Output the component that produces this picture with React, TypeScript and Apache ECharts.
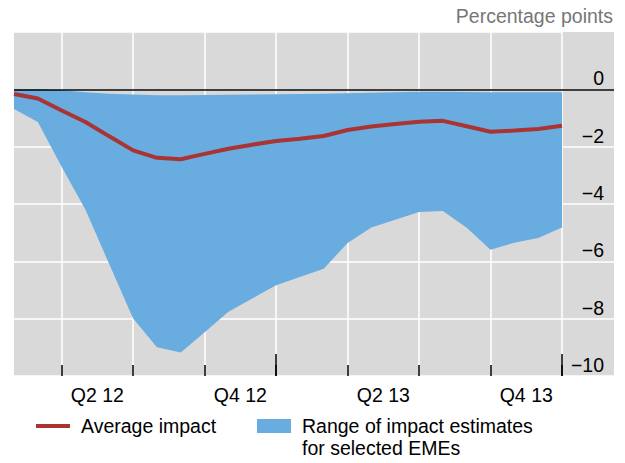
import React, { useEffect, useRef } from 'react';
import * as echarts from 'echarts';

const months = [
  'Jan 12', 'Feb 12', 'Mar 12', 'Apr 12', 'May 12', 'Jun 12', 'Jul 12', 'Aug 12', 'Sep 12', 'Oct 12', 'Nov 12', 'Dec 12',
  'Jan 13', 'Feb 13', 'Mar 13', 'Apr 13', 'May 13', 'Jun 13', 'Jul 13', 'Aug 13', 'Sep 13', 'Oct 13', 'Nov 13', 'Dec 13',
];

const averageImpact = [
  -0.16, -0.32, -0.74, -1.14, -1.64, -2.13, -2.39, -2.44, -2.25, -2.07, -1.93, -1.8,
  -1.72, -1.63, -1.42, -1.3, -1.21, -1.13, -1.1, -1.29, -1.48, -1.44, -1.38, -1.27,
];

const rangeLower = [
  -0.69, -1.14, -2.7, -4.2, -6.1, -7.99, -9.0, -9.18, -8.47, -7.76, -7.3, -6.83,
  -6.55, -6.26, -5.36, -4.82, -4.55, -4.28, -4.24, -4.83, -5.6, -5.35, -5.19, -4.82,
];

const rangeUpper = [
  0, 0, -0.03, -0.1, -0.15, -0.18, -0.21, -0.21, -0.2, -0.19, -0.18, -0.17,
  -0.16, -0.15, -0.14, -0.12, -0.1, -0.08, -0.08, -0.09, -0.1, -0.1, -0.1, -0.1,
];

const quarterLabels = ['Q2 12', 'Q4 12', 'Q2 13', 'Q4 13'];
const quarterLabelPositions = [3.5, 9.5, 15.5, 21.5];

const FONT = "'Liberation Sans', Arial, Helvetica, sans-serif";
const RED = '#aa3333';
const BLUE = '#69ace0';
const GRAY = '#d9d9d9';
const AVG_NAME = 'Average impact';
const BAND_NAME = 'Range of impact estimates\nfor selected EMEs';

export default function App() {
  const ref = useRef<HTMLDivElement>(null);

  useEffect(() => {
    if (!ref.current) return;
    const chart = echarts.init(ref.current, undefined, { renderer: 'svg' });
    const fmtY = (v: number) => (v > 0 ? '' : v < 0 ? '\u2212' + Math.abs(v) : '0');
    const option: any = {
      animation: false,
      textStyle: { fontFamily: FONT },
      title: {
        text: 'Percentage points',
        right: 12,
        top: 5,
        padding: 0,
        textStyle: { fontFamily: FONT, fontSize: 19.5, fontWeight: 'normal', color: '#767676', lineHeight: 22 },
      },
      graphic: [
        {
          type: 'rect',
          z: -10,
          silent: true,
          shape: { x: 14, y: 32, width: 600, height: 344 },
          style: { fill: GRAY },
        },
      ],
      grid: { left: 14, right: 63, top: 32, bottom: 87 },
      legend: [
        {
          data: [{ name: AVG_NAME, icon: 'rect' }],
          left: 36,
          top: 415,
          padding: 0,
          itemWidth: 34,
          itemHeight: 4,
          selectedMode: false,
          itemStyle: { borderWidth: 0 },
          textStyle: { fontFamily: FONT, fontSize: 19.5, color: '#000', lineHeight: 22, padding: [0, 0, 0, 6] },
        },
        {
          data: [{ name: BAND_NAME, icon: 'rect' }],
          left: 257,
          top: 393,
          padding: 0,
          itemWidth: 34,
          itemHeight: 14,
          selectedMode: false,
          itemStyle: { borderWidth: 0 },
          formatter: (name: string) => '\n' + name,
          textStyle: { fontFamily: FONT, fontSize: 19.5, color: '#000', lineHeight: 22, padding: [0, 0, 0, 6] },
        },
      ],
      xAxis: [
        {
          type: 'category',
          position: 'bottom',
          data: months,
          boundaryGap: false,
          axisLine: { show: false, onZero: false },
          axisLabel: { show: false },
          axisTick: {
            show: true,
            inside: true,
            length: 11,
            interval: (i: number) => i % 3 === 2,
            lineStyle: { color: '#000', width: 1.5 },
          },
          splitLine: {
            show: true,
            interval: (i: number) => i % 3 === 2,
            lineStyle: { color: '#fff', width: 1.5 },
          },
        },
        {
          type: 'category',
          position: 'bottom',
          data: months,
          boundaryGap: false,
          axisLine: { show: false, onZero: false },
          axisLabel: { show: false },
          splitLine: { show: false },
          axisTick: {
            show: true,
            inside: true,
            length: 22,
            interval: (i: number) => i === 11 || i === 23,
            lineStyle: { color: '#000', width: 1.5 },
          },
        },
        {
          type: 'value',
          position: 'bottom',
          min: 0,
          max: 23,
          axisLine: { show: false, onZero: false },
          axisTick: { show: false },
          splitLine: { show: false },
          axisLabel: {
            customValues: quarterLabelPositions,
            formatter: (v: number) => {
              const k = quarterLabelPositions.indexOf(v);
              return k >= 0 ? quarterLabels[k] : '';
            },
            fontFamily: FONT,
            fontSize: 19.5,
            color: '#000',
            margin: 8,
            lineHeight: 22,
          },
        },
      ],
      yAxis: [
        {
          type: 'value',
          position: 'right',
          min: -10,
          max: 2,
          interval: 2,
          axisLine: { show: false, onZero: false },
          axisTick: { show: true, inside: false, length: 52, lineStyle: { color: '#fff', width: 1.5 } },
          splitLine: { show: true, lineStyle: { color: '#fff', width: 1.5 } },
          axisLabel: {
            align: 'right',
            verticalAlign: 'bottom',
            margin: 42,
            fontFamily: FONT,
            fontSize: 19.5,
            color: '#000',
            lineHeight: 22,
            showMaxLabel: false,
            formatter: fmtY,
          },
        },
        {
          type: 'value',
          position: 'right',
          min: -10,
          max: 2,
          axisLine: { show: false, onZero: false },
          axisLabel: { show: false },
          splitLine: { show: false },
          axisTick: { show: true, inside: false, customValues: [0], length: 52, lineStyle: { color: '#000', width: 1.5 } },
        },
      ],
      series: [
        {
          name: 'lower bound',
          type: 'line',
          data: rangeLower,
          stack: 'range',
          stackStrategy: 'all',
          symbol: 'none',
          silent: true,
          lineStyle: { width: 0, opacity: 0 },
          z: 2,
        },
        {
          name: BAND_NAME,
          type: 'line',
          data: rangeUpper.map((u, i) => u - rangeLower[i]),
          stack: 'range',
          stackStrategy: 'all',
          symbol: 'none',
          silent: true,
          color: BLUE,
          itemStyle: { color: BLUE },
          lineStyle: { width: 0, opacity: 0 },
          areaStyle: { color: BLUE, opacity: 1 },
          z: 2,
        },
        {
          name: AVG_NAME,
          type: 'line',
          data: averageImpact,
          symbol: 'none',
          color: RED,
          itemStyle: { color: RED },
          lineStyle: { color: RED, width: 4 },
          z: 4,
          markLine: {
            silent: true,
            symbol: ['none', 'none'],
            label: { show: false },
            lineStyle: { color: '#000', width: 1.5, type: 'solid' },
            data: [{ yAxis: 0 }],
          },
        },
      ],
    };
    chart.setOption(option);
    return () => chart.dispose();
  }, []);

  return (
    <div
      ref={ref}
      style={{ position: 'absolute', left: 0, top: 0, width: 625, height: 463 }}
    />
  );
}
